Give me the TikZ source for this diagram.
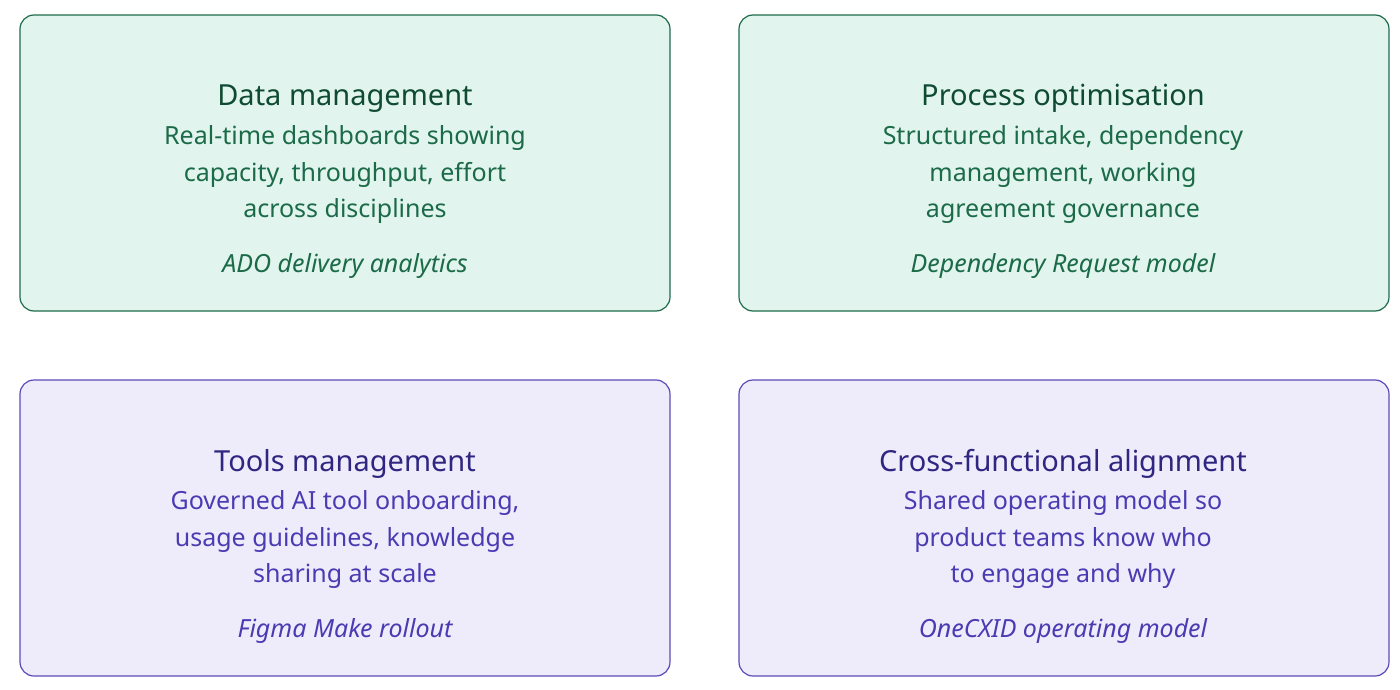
\documentclass[tikz,border=0pt]{standalone}
\usepackage{fontspec}
\setmainfont{Noto Sans}
\definecolor{gfill}{HTML}{E1F5EE}
\definecolor{gline}{HTML}{1F6B4B}
\definecolor{gtitle}{HTML}{0F4A32}
\definecolor{gbody}{HTML}{1B6A48}
\definecolor{pfill}{HTML}{EEECFA}
\definecolor{pline}{HTML}{5A4BB8}
\definecolor{ptitle}{HTML}{2F2682}
\definecolor{pbody}{HTML}{4B3BB2}
\begin{document}
\begin{tikzpicture}[x=1pt,y=-1pt,
 box/.style={draw=#1,line width=1.2pt,rounded corners=14pt},
 ttl/.style={font=\fontsize{29}{34}\selectfont\bfseries,anchor=base},
 bdy/.style={font=\fontsize{25}{36.5}\selectfont,align=center,anchor=north},
 itl/.style={font=\fontsize{25}{30}\selectfont\itshape,anchor=base}]
\useasboundingbox (0,0) rectangle (1400,690);
\foreach \x/\y/\f/\l in {20/15/gfill/gline,739/15/gfill/gline,20/380/pfill/pline,739/380/pfill/pline}
  \draw[box=\l,fill=\f] (\x,\y) rectangle ++(650,296);
% top-left
\node[ttl,text=gtitle] (t1) at (345,106) {Data management};
\node[bdy,text=gbody] (b1) at (345,122) {Real-time dashboards showing\\capacity, throughput, effort\\across disciplines};
\node[itl,text=gbody] (i1) at (345,272) {ADO delivery analytics};
% top-right
\node[ttl,text=gtitle] (t2) at (1063,106) {Process optimisation};
\node[bdy,text=gbody] (b2) at (1063,122) {Structured intake, dependency\\management, working\\agreement governance};
\node[itl,text=gbody] (i2) at (1063,272) {Dependency Request model};
% bottom-left
\node[ttl,text=ptitle] (t3) at (345,471) {Tools management};
\node[bdy,text=pbody] (b3) at (345,487) {Governed AI tool onboarding,\\usage guidelines, knowledge\\sharing at scale};
\node[itl,text=pbody] (i3) at (345,637) {Figma Make rollout};
% bottom-right
\node[ttl,text=ptitle] (t4) at (1063,471) {Cross-functional alignment};
\node[bdy,text=pbody] (b4) at (1063,487) {Shared operating model so\\product teams know who\\to engage and why};
\node[itl,text=pbody] (i4) at (1063,637) {OneCXID operating model};
\end{tikzpicture}
\end{document}
